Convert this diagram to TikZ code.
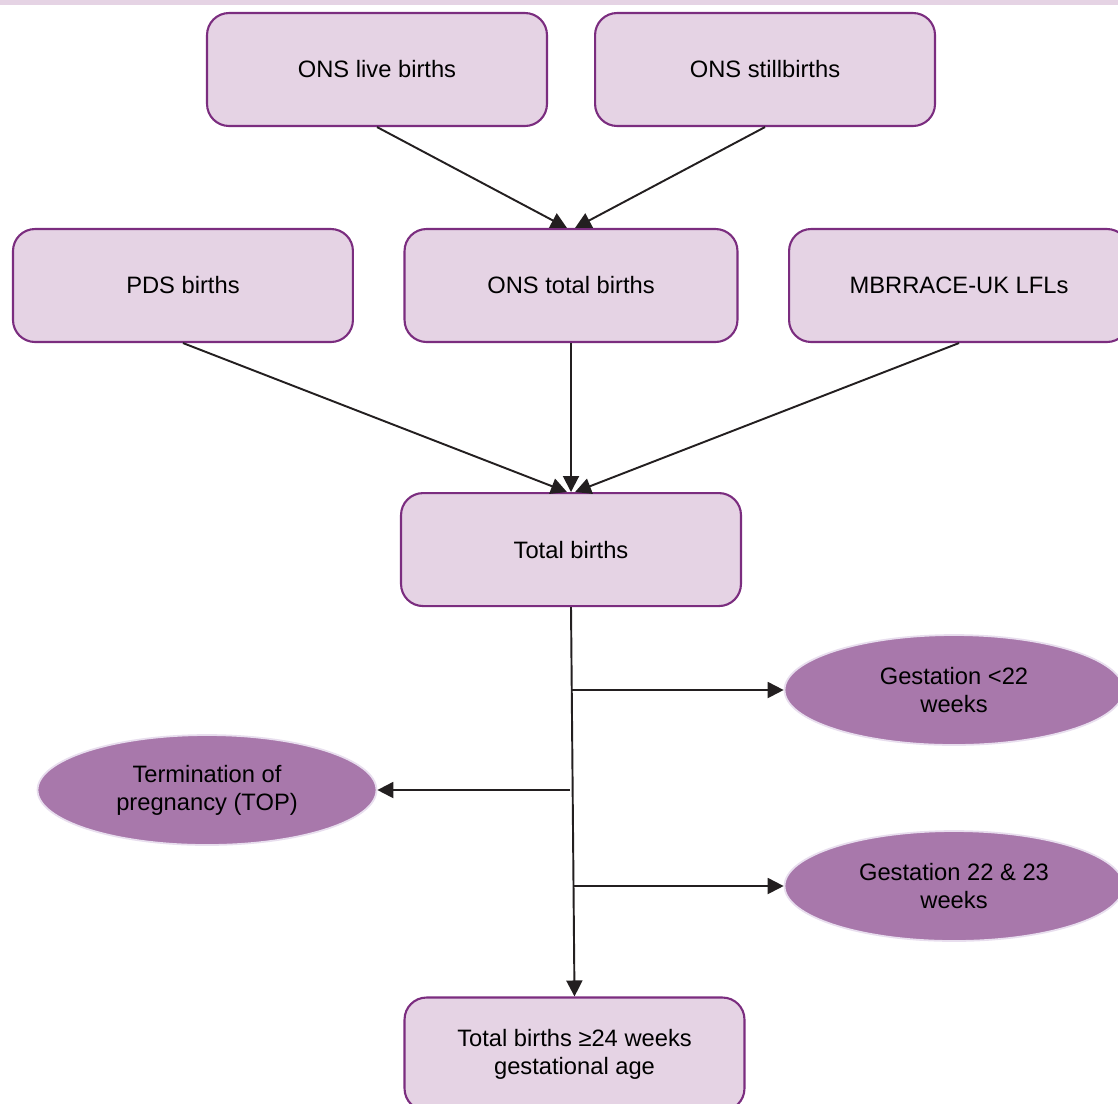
\documentclass[tikz,border=0pt]{standalone}
\usepackage{fontspec}
\setmainfont{Liberation Sans}
\usetikzlibrary{positioning, shapes.geometric, arrows.meta}
\definecolor{boxfill}{HTML}{E5D3E4}
\definecolor{boxline}{HTML}{7B2D7F}
\definecolor{ovalfill}{HTML}{A878AB}
\definecolor{ovalline}{HTML}{E8DEEE}
\definecolor{arrowline}{HTML}{231F20}

\begin{document}
\begin{tikzpicture}[x=0.02cm, y=-0.02cm, node distance=1cm,
	box/.style={rectangle, rounded corners=0.44cm, text centered, align=center, draw=boxline, fill=boxfill, line width=1.2pt, minimum height=2.26cm, minimum width=6.8cm, font=\fontsize{13.5}{16}\selectfont},
	oval/.style={ellipse, align=center, draw=ovalline, fill=ovalfill, line width=1pt, inner sep=0pt, minimum height=2.2cm, minimum width=6.78cm, font=\fontsize{13.5}{16}\selectfont},
	link/.style={draw=arrowline, line width=1.1pt},
	>={Triangle[length=0.32cm, width=0.32cm]}]
	\useasboundingbox (0,0) rectangle (1118,1103);
	\clip (0,0) rectangle (1118,1103);
	\fill[boxfill] (0,0) rectangle (1118,5);

	\node[box] (live) at (377,69.5) {ONS live births};
	\node[box] (still) [right=0.92cm of live] {ONS stillbirths};
	\node[box, minimum width=6.66cm] (onstotal) at (571,285.5) {ONS total births};
	\node[box] (pds) [left=0.99cm of onstotal] {PDS births};
	\node[box] (mbrrace) [right=0.99cm of onstotal] {MBRRACE-UK LFLs};
	\node[box] (total) [below=2.98cm of onstotal] {Total births};
	\node[oval] (lt22) at (954,690) {Gestation <22\\weeks};
	\node[oval] (top) at (207,790) {Termination of\\pregnancy (TOP)};
	\node[oval] (g2223) at (954,886) {Gestation 22 \& 23\\weeks};
	\node[box] (final) at (574.5,1054) {Total births ≥24 weeks\\gestational age};

	\coordinate (split1) at (572,690);
	\coordinate (split2) at (570,790);
	\coordinate (split3) at (573,886);

	\draw [link, ->] (live.south) -- (onstotal.94);
	\draw [link, ->] (still.south) -- (onstotal.86);
	\draw [link, ->] (pds.south) -- (total.94);
	\draw [link, ->] (onstotal.south) -- (total.north);
	\draw [link, ->] (mbrrace.south) -- (total.86);
	\draw [link, ->] (total.south) -- (final.north);
	\draw [link, ->] (split1) -- (lt22.west);
	\draw [link, ->] (split2) -- (top.east);
	\draw [link, ->] (split3) -- (g2223.west);
\end{tikzpicture}
\end{document}
